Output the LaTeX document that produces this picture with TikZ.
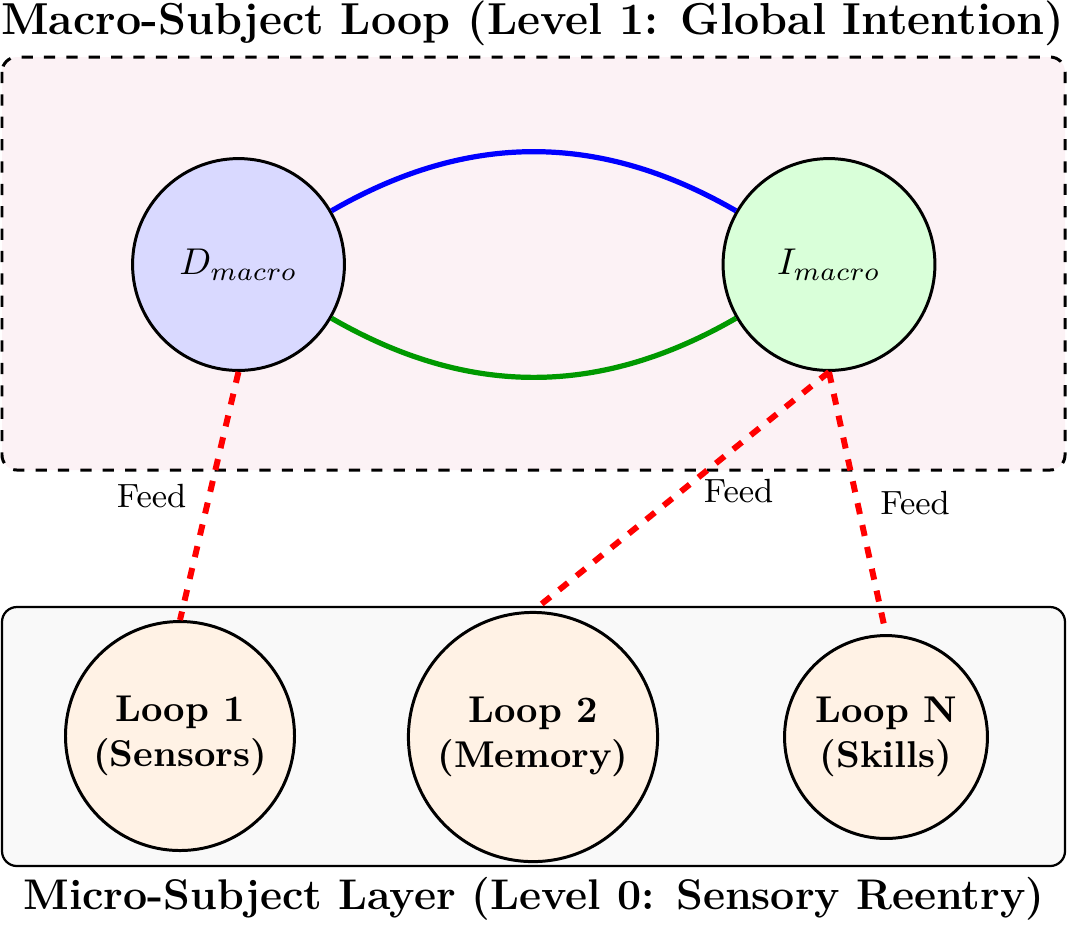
\documentclass[tikz,border=0pt]{standalone}
\begin{document}
\begin{tikzpicture}[x=0.2681pt,y=-0.2681pt,
  macro/.style={circle, draw, thick, minimum size=56.8pt, inner sep=0pt},
  loopc/.style={circle, draw, thick, fill=orange!10, align=center, font=\bfseries, inner sep=0pt},
  arcline/.style={line width=1.4pt},
  feed/.style={red, dashed, line width=1.6pt},
  flab/.style={font=\small, text=black},
  title/.style={font=\large\bfseries}]
\useasboundingbox (0,0) rectangle (1067,924);
\draw[dashed, thick, rounded corners=4pt, fill=purple!5] (2,57) rectangle (1065,470);
\draw[semithick, rounded corners=4pt, fill=gray!5] (2,607) rectangle (1065,866);
\node[title] (T1) at (532.5,23) {Macro-Subject Loop (Level 1: Global Intention)};
\node[title, font=\fontsize{11.5}{14}\selectfont\bfseries] (T0) at (534,899) {Micro-Subject Layer (Level 0: Sensory Reentry)};
\node[macro, fill=blue!15] (D) at (238.5,264.5) {$D_{macro}$};
\node[macro, fill=green!15] (I) at (829,264.5) {$I_{macro}$};
\node[loopc, minimum size=61.4pt] (L1) at (180,736) {Loop 1\\(Sensors)};
\node[loopc, minimum size=66.8pt] (L2) at (533,737) {Loop 2\\(Memory)};
\node[loopc, minimum size=54.4pt] (LN) at (886,737) {Loop N\\(Skills)};
\draw[blue, arcline] (D) to[bend left=30] (I);
\draw[green!60!black, arcline] (D) to[bend right=30] (I);
\draw[feed] (D.south) -- node[flab, left=2pt] (F1) {Feed} (L1.north);
\draw[feed] (I.south) -- node[flab, right=2pt] (F2) {Feed} (L2.north);
\draw[feed] (I.south) -- node[flab, right=2pt] (F3) {Feed} (LN.north);
\end{tikzpicture}
\end{document}
